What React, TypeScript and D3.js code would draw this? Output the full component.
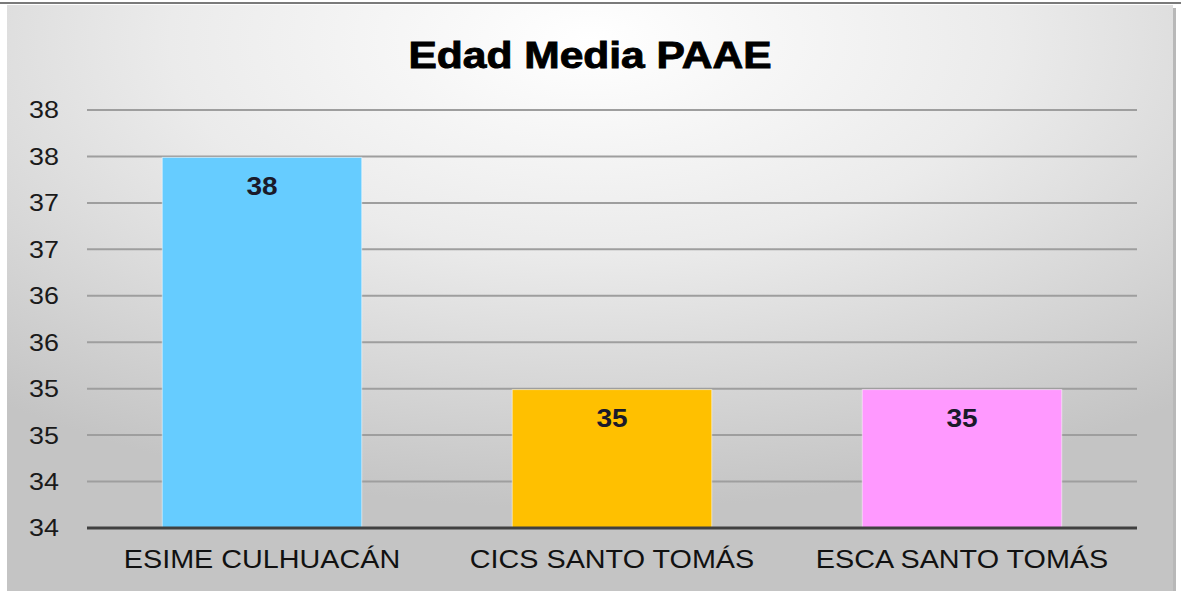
import React from "react";
import * as d3 from "d3";

const categories = ["ESIME CULHUACÁN", "CICS SANTO TOMÁS", "ESCA SANTO TOMÁS"];
const values = [37.99, 35.49, 35.49];
const colors = ["#66CCFF", "#FFC000", "#FF99FF"];
const tickValues = [34, 34.5, 35, 35.5, 36, 36.5, 37, 37.5, 38, 38.5];
const tickLabels = ["34", "34", "35", "35", "36", "36", "37", "37", "38", "38"];
const title = "Edad Media PAAE";

const W = 1181;
const H = 592;
const plot = { left: 87, right: 1137, top: 110, bottom: 528 };
const SX = 1.15;

export default function App() {
  const x = d3
    .scaleBand<string>()
    .domain(categories)
    .range([plot.left, plot.right])
    .paddingInner(0.43)
    .paddingOuter(0.215);
  const y = d3.scaleLinear().domain([34, 38.5]).range([plot.bottom, plot.top]);
  const fmt = d3.format(".0f");
  const font = "'Liberation Sans', Arial, sans-serif";

  return (
    <svg
      width={W}
      height={H}
      style={{ position: "absolute", left: 0, top: 0, display: "block" }}
    >
      <defs>
        <radialGradient id="bg" cx="50%" cy="6%" r="80%" fx="50%" fy="6%">
          <stop offset="0%" stopColor="#ffffff" />
          <stop offset="45%" stopColor="#ebebeb" />
          <stop offset="100%" stopColor="#c4c4c4" />
        </radialGradient>
      </defs>
      <rect x={0} y={0} width={W} height={H} fill="#ffffff" />
      <rect x={7} y={5} width={1166} height={586} fill="url(#bg)" />
      <rect x={1173} y={8} width={3} height={583} fill="#b8b8b8" />
      <line x1={0} x2={W} y1={3} y2={3} stroke="#7a7a7a" strokeWidth={2} />

      <g transform={`translate(590,68) scale(${SX},1)`}>
        <text
          x={0}
          y={0}
          textAnchor="middle"
          fontFamily={font}
          fontWeight="bold"
          fontSize={37}
          fill="#000"
          stroke="#000"
          strokeWidth={0.9}
        >
          {title}
        </text>
      </g>

      {tickValues.slice(1).map((t) => (
        <line
          key={"g" + t}
          x1={plot.left}
          x2={plot.right}
          y1={y(t)}
          y2={y(t)}
          stroke="#9e9e9e"
          strokeWidth={2}
        />
      ))}

      {tickValues.map((t, i) => (
        <g key={"t" + t} transform={`translate(59,${y(t)}) scale(1.12,1)`}>
          <text
            x={0}
            y={0}
            dy="0.35em"
            textAnchor="end"
            fontFamily={font}
            fontSize={24}
            fill="#1a1a1a"
          >
            {tickLabels[i]}
          </text>
        </g>
      ))}

      {categories.map((c, i) => {
        const cx = (x(c) as number) + x.bandwidth() / 2;
        return (
          <g key={c}>
            <rect
              x={x(c)}
              y={y(values[i])}
              width={x.bandwidth()}
              height={plot.bottom - y(values[i])}
              fill={colors[i]}
              stroke="#ffffff"
              strokeOpacity={0.5}
              strokeWidth={1}
            />
            <g transform={`translate(${cx},${y(values[i]) + 29}) scale(1.12,1)`}>
              <text
                x={0}
                y={0}
                dy="0.35em"
                textAnchor="middle"
                fontFamily={font}
                fontWeight="bold"
                fontSize={25}
                fill="#1a1a2a"
              >
                {fmt(values[i])}
              </text>
            </g>
            <g transform={`translate(${cx},559) scale(${SX},1)`}>
              <text
                x={0}
                y={0}
                dy="0.35em"
                textAnchor="middle"
                fontFamily={font}
                fontSize={25}
                fill="#111"
              >
                {c}
              </text>
            </g>
          </g>
        );
      })}

      <line
        x1={plot.left}
        x2={plot.right}
        y1={plot.bottom}
        y2={plot.bottom}
        stroke="#404040"
        strokeWidth={3}
      />
    </svg>
  );
}
